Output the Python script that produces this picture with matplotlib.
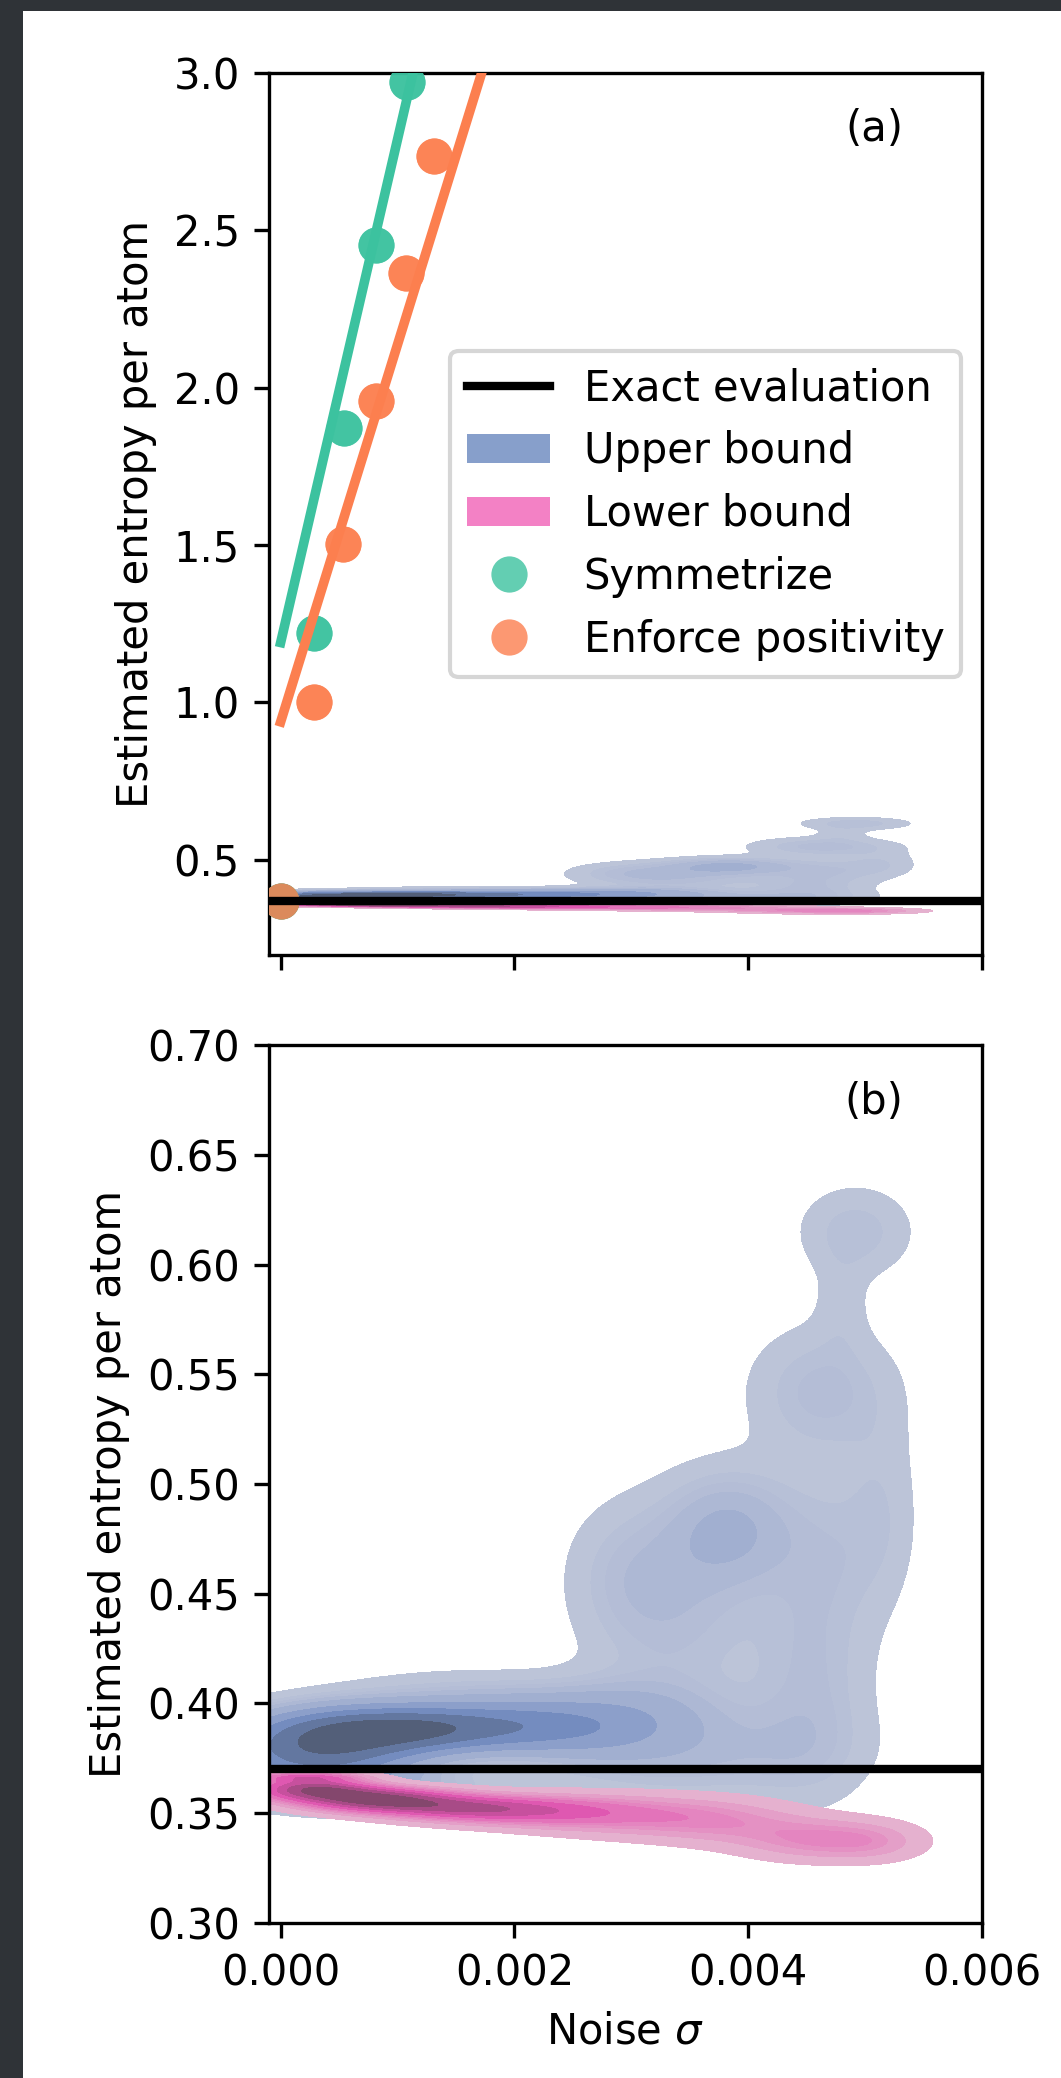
import numpy as np
import matplotlib
matplotlib.use('Agg')
import matplotlib.pyplot as plt
from matplotlib.patches import Patch, Rectangle
from matplotlib.lines import Line2D
from matplotlib.colors import ListedColormap, to_rgb
from seaborn.external import husl

# точное значение энтропии
exact_entropy = 0.370

# точки методов (шум, энтропия)
sym_noise = [0.0, 0.000283, 0.000542, 0.000814, 0.001085]
sym_entropy = [0.37, 1.22, 1.872, 2.453, 2.971]
pos_noise = [0.0, 0.000283, 0.000531, 0.000814, 0.001073, 0.00131]
pos_entropy = [0.37, 1.001, 1.502, 1.956, 2.365, 2.735]

# линейные аппроксимации (наклон, сдвиг)
sym_fit = [1599.0, 1.19]
pos_fit = [1199.0, 0.938]

# плотность верхней оценки: центры, ширины и высоты компонент
upper_cx = [0.0003, 0.0006, 0.0012, 0.0018, 0.0024, 0.0030, 0.0007, 0.0016,
            0.00295, 0.0034, 0.00384, 0.00455, 0.00463, 0.00492, 0.0041, 0.00515,
            0.0048, 0.0032, 0.0047]
upper_cy = [0.377, 0.388, 0.388, 0.389, 0.389, 0.392, 0.360, 0.400,
            0.460, 0.440, 0.480, 0.410, 0.542, 0.615, 0.380, 0.490,
            0.582, 0.372, 0.470]
upper_sx = [0.00055, 0.00055, 0.00045, 0.0005, 0.0005, 0.0005, 0.0007, 0.0008,
            0.00035, 0.0005, 0.00038, 0.00035, 0.00042, 0.00033, 0.0006, 0.00022,
            0.00015, 0.0007, 0.00035]
upper_sy = [0.009, 0.0075, 0.0065, 0.0075, 0.009, 0.012, 0.007, 0.010,
            0.022, 0.030, 0.018, 0.035, 0.020, 0.014, 0.015, 0.030,
            0.015, 0.012, 0.025]
upper_amp = [1.1, 1.0, 0.65, 0.55, 0.42, 0.3, 0.3, 0.18,
             0.12, 0.18, 0.30, 0.17, 0.20, 0.17, 0.12, 0.10,
             0.08, 0.12, 0.12]

# плотность нижней оценки
lower_cx = [0.00025, 0.0008, 0.0007, 0.0015, 0.0022, 0.0030, 0.0038, 0.0046, 0.0051, 0.0002]
lower_cy = [0.3615, 0.3555, 0.359, 0.3525, 0.351, 0.349, 0.346, 0.338, 0.337, 0.3665]
lower_sx = [0.00035, 0.00045, 0.0005, 0.0005, 0.00055, 0.0006, 0.0005, 0.00045, 0.0003, 0.00035]
lower_sy = [0.0035, 0.0035, 0.003, 0.004, 0.0048, 0.0065, 0.007, 0.0065, 0.006, 0.0015]
lower_amp = [1.0, 1.0, 0.4, 0.75, 0.55, 0.38, 0.30, 0.42, 0.20, 0.5]

upper_color = '#8da0cb'
lower_color = '#e78ac3'
sym_color = '#3cc29f'
pos_color = '#fc7f4f'

gx = np.linspace(-0.0008, 0.0068, 400)
gy = np.linspace(0.25, 0.75, 600)
X, Y = np.meshgrid(gx, gy)


def density(cx, cy, sx, sy, amp):
    z = np.zeros_like(X)
    for a, b, c, d, e in zip(cx, cy, sx, sy, amp):
        z += e * np.exp(-0.5 * (((X - a) / c) ** 2 + ((Y - b) / d) ** 2))
    return z


def iso_levels(z, q):
    v = np.sort(z.ravel())[::-1]
    cum = np.cumsum(v) / v.sum()
    idx = np.searchsorted(cum, 1 - np.asarray(q))
    return np.take(v, idx, mode='clip')


def cmap_from(color):
    r, g, b = to_rgb(color)
    h, s, _ = husl.rgb_to_husl(r, g, b)
    xx = np.linspace(-1, 1, int(1.15 * 256))[:256]
    ramp = np.zeros((256, 3))
    ramp[:, 0] = h
    ramp[:, 1] = s * np.cos(xx)
    ramp[:, 2] = np.linspace(35, 80, 256)
    cols = np.clip([husl.husl_to_rgb(*hsl) for hsl in ramp], 0, 1)
    return ListedColormap(cols[::-1])


z_up = density(upper_cx, upper_cy, upper_sx, upper_sy, upper_amp)
z_lo = density(lower_cx, lower_cy, lower_sx, lower_sy, lower_amp)
quant = np.linspace(0.05, 1, 10)
lev_up = iso_levels(z_up, quant)
lev_lo = iso_levels(z_lo, quant)
cmap_up = cmap_from(upper_color)
cmap_lo = cmap_from(lower_color)

fig = plt.figure(figsize=(1061 / 300, 2078 / 300), dpi=300, facecolor='#2f3337')
fig.add_artist(Rectangle((23 / 1061, 0), 1, 1 - 11 / 2078, transform=fig.transFigure,
                         facecolor='white', edgecolor='none', zorder=-5))

ax1 = fig.add_axes([0.2535, 0.5404, 0.672, 0.4245])
ax2 = fig.add_axes([0.2535, 0.0746, 0.672, 0.4225])

for ax in (ax1, ax2):
    ax.contourf(X, Y, z_up, levels=lev_up, cmap=cmap_up, zorder=1)
    ax.contourf(X, Y, z_lo, levels=lev_lo, cmap=cmap_lo, zorder=2)
    ax.axhline(exact_entropy, color='black', lw=2, zorder=6)
    ax.set_xlim(-0.0001, 0.006)
    ax.set_xticks([0.0, 0.002, 0.004, 0.006])
    ax.set_ylabel('Estimated entropy per atom')

# рисуем точки и прямые
xf = np.array([0.0, 0.003])
ax1.plot(xf, np.polyval(sym_fit, xf), color=sym_color, lw=2.3, zorder=5)
ax1.plot(xf, np.polyval(pos_fit, xf), color=pos_color, lw=2.3, zorder=5)
for k in range(2):
    ax1.scatter(sym_noise, sym_entropy, s=75, color=sym_color, alpha=0.8, lw=0, zorder=4)
    ax1.scatter(pos_noise, pos_entropy, s=75, color=pos_color, alpha=0.8, lw=0, zorder=4)
ax1.set_ylim(0.197, 3.0)
ax1.set_yticks([0.5, 1.0, 1.5, 2.0, 2.5, 3.0])
ax1.tick_params(labelbottom=False)
ax1.text(0.849, 0.937, '(a)', transform=ax1.transAxes, ha='center', va='center')

handles = [
    Line2D([], [], color='black', lw=2),
    Patch(facecolor='#879fcb'),
    Patch(facecolor='#f381c5'),
    Line2D([], [], marker='o', ls='none', markersize=8.7, markeredgewidth=0, color=sym_color, alpha=0.8),
    Line2D([], [], marker='o', ls='none', markersize=8.7, markeredgewidth=0, color=pos_color, alpha=0.8),
]
labels = ['Exact evaluation', 'Upper bound', 'Lower bound', 'Symmetrize', 'Enforce positivity']
ax1.legend(handles, labels, loc='center right')

ax2.set_ylim(0.30, 0.70)
ax2.set_xlabel('Noise $\\sigma$')
ax2.text(0.849, 0.935, '(b)', transform=ax2.transAxes, ha='center', va='center')

fig.savefig('out.png', dpi=300, facecolor=fig.get_facecolor())
